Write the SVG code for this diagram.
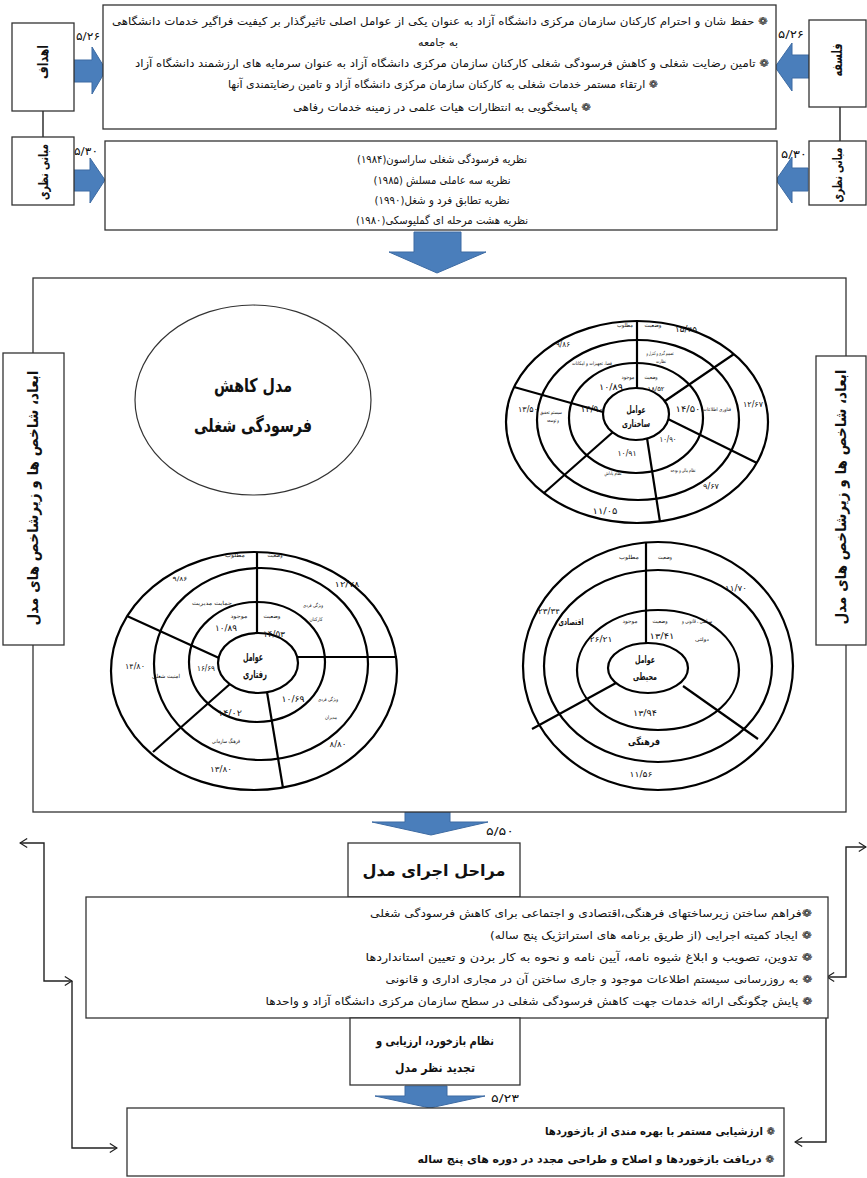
<svg xmlns="http://www.w3.org/2000/svg" width="867" height="1178" viewBox="0 0 867 1178">
<style>
text{font-family:"DejaVu Sans","Noto Sans",sans-serif;fill:#111}
.fa{direction:rtl;text-anchor:middle}
.c{text-anchor:middle}
.b{font-weight:bold}
.box{fill:#fff;stroke:#333;stroke-width:1.3}
.ring{fill:none;stroke:#000;stroke-width:2.2}
.sp{stroke:#000;stroke-width:2.2}
.blue{fill:#4A7EBB;stroke:#3D6BA3;stroke-width:1}
.con{fill:none;stroke:#222;stroke-width:1.4}
.s5{font-size:5px}.s55{font-size:5.5px}.s7{font-size:8px}.s8{font-size:8.5px}
.t11{font-size:11px}.t12{font-size:12px}
.lbl{font-size:11px;text-anchor:middle}
</style>
<defs>
<marker id="oa" viewBox="0 0 10 12" refX="9" refY="6" markerWidth="9" markerHeight="11" markerUnits="userSpaceOnUse" orient="auto-start-reverse">
<path d="M1,1 L9,6 L1,11" fill="none" stroke="#222" stroke-width="1.4"/>
</marker>
</defs>
<rect width="867" height="1178" fill="#fff"/>

<g id="connectors">
<line class="con" x1="43" y1="111" x2="43" y2="137"/>
<line class="con" x1="840" y1="107" x2="840" y2="141"/>
<path class="con" d="M20,843 H44 V981 H72" marker-start="url(#oa)" marker-end="url(#oa)"/>
<path class="con" d="M72,981 V1148 H117" marker-end="url(#oa)"/>
<path class="con" d="M827,977 H846 V847 H866" marker-start="url(#oa)" marker-end="url(#oa)"/>
<path class="con" d="M826,977 V1142 H795" marker-end="url(#oa)"/>
<polygon class="blue" points="74,60 92,60 92,47 106,70 92,94 92,82 74,82"/>
<polygon class="blue" points="74,170 90,170 90,158 105,180 90,203 90,191 74,191"/>
<polygon class="blue" points="809,55 792,55 792,43 775,67 792,91 792,78 809,78"/>
<polygon class="blue" points="808,168 792,168 792,157 776,180 792,203 792,191 808,191"/>
<polygon class="blue" points="414,232 461,232 461,252 486,252 437,273 389,252 414,252"/>
<polygon class="blue" points="405,812 450,812 450,822 488,822 431,835 372,822 405,822"/>
<polygon class="blue" points="405,1086 447,1086 447,1096 485,1096 430,1108 375,1096 405,1096"/>
<text class="lbl" x="88" y="40" textLength="24" lengthAdjust="spacingAndGlyphs">۵/۲۶</text>
<text class="lbl" x="86" y="155" textLength="24" lengthAdjust="spacingAndGlyphs">۵/۳۰</text>
<text class="lbl" x="791" y="38" textLength="26" lengthAdjust="spacingAndGlyphs">۵/۲۶</text>
<text class="lbl" x="794" y="158" textLength="26" lengthAdjust="spacingAndGlyphs">۵/۳۰</text>
<text class="lbl" x="500" y="835" textLength="28" lengthAdjust="spacingAndGlyphs">۵/۵۰</text>
<text class="lbl" x="505" y="1102" textLength="28" lengthAdjust="spacingAndGlyphs">۵/۲۳</text>
</g>

<g id="goals">
<rect class="box" x="12" y="23" width="62" height="88"/>
<text class="fa b" font-size="14" transform="translate(43,62) rotate(-90)" dominant-baseline="central" textLength="34" lengthAdjust="spacingAndGlyphs">اهداف</text>
</g>
<g id="theory-left">
<rect class="box" x="12" y="137" width="62" height="68"/>
<text class="fa b" font-size="13" transform="translate(43,172) rotate(-90)" dominant-baseline="central" textLength="56" lengthAdjust="spacingAndGlyphs">مبانی نظری</text>
</g>
<g id="philosophy">
<rect class="box" x="809" y="20" width="57" height="87"/>
<text class="fa b" font-size="14" transform="translate(837,60) rotate(-90)" dominant-baseline="central" textLength="33" lengthAdjust="spacingAndGlyphs">فلسفه</text>
</g>
<g id="theory-right">
<rect class="box" x="809" y="141" width="57" height="64"/>
<text class="fa b" font-size="13" transform="translate(837,175) rotate(-90)" dominant-baseline="central" textLength="55" lengthAdjust="spacingAndGlyphs">مبانی نظری</text>
</g>

<g id="goals-text">
<rect class="box" x="103" y="5" width="673" height="124"/>
<text class="fa t11" x="440" y="25" textLength="656" lengthAdjust="spacingAndGlyphs">❁ حفظ شان و احترام کارکنان سازمان مرکزی دانشگاه آزاد به عنوان یکی از عوامل اصلی تاثیرگذار بر کیفیت فراگیر خدمات دانشگاهی</text>
<text class="fa t11" x="438" y="46" textLength="40" lengthAdjust="spacingAndGlyphs">به جامعه</text>
<text class="fa t11" x="452" y="67" textLength="634" lengthAdjust="spacingAndGlyphs">❁ تامین رضایت شغلی و کاهش فرسودگی شغلی کارکنان سازمان مرکزی دانشگاه آزاد به عنوان سرمایه های ارزشمند دانشگاه آزاد</text>
<text class="fa t11" x="443" y="88" textLength="430" lengthAdjust="spacingAndGlyphs">❁ ارتقاء مستمر خدمات شغلی به کارکنان سازمان مرکزی دانشگاه آزاد و تامین رضایتمندی آنها</text>
<text class="fa t11" x="442" y="111" textLength="298" lengthAdjust="spacingAndGlyphs">❁ پاسخگویی به انتظارات هیات علمی در زمینه خدمات رفاهی</text>
</g>

<g id="theories">
<rect class="box" x="105" y="141" width="672" height="89"/>
<text class="fa t11" x="442" y="163" textLength="170" lengthAdjust="spacingAndGlyphs">نظریه فرسودگی شغلی ساراسون(۱۹۸۴)</text>
<text class="fa t11" x="442" y="184" textLength="137" lengthAdjust="spacingAndGlyphs">نظریه سه عاملی مسلش (۱۹۸۵)</text>
<text class="fa t11" x="442" y="204" textLength="135" lengthAdjust="spacingAndGlyphs">نظریه تطابق فرد و شغل(۱۹۹۰)</text>
<text class="fa t11" x="442" y="224" textLength="172" lengthAdjust="spacingAndGlyphs">نظریه هشت مرحله ای گملیوسکی(۱۹۸۰)</text>
</g>

<g id="model-frame">
<rect class="box" x="33" y="278" width="813" height="534"/>
</g>
<g id="dims-left">
<rect class="box" x="3" y="353" width="61" height="292"/>
<text class="fa b" font-size="15" transform="translate(33,498) rotate(-90)" dominant-baseline="central" textLength="255" lengthAdjust="spacingAndGlyphs">ابعاد، شاخص ها و زیرشاخص های مدل</text>
</g>
<g id="dims-right">
<rect class="box" x="816" y="356" width="50" height="289"/>
<text class="fa b" font-size="15" transform="translate(841,497) rotate(-90)" dominant-baseline="central" textLength="255" lengthAdjust="spacingAndGlyphs">ابعاد، شاخص ها و زیرشاخص های مدل</text>
</g>

<g id="model-title">
<ellipse cx="253" cy="400" rx="118" ry="95" fill="#fff" stroke="#333" stroke-width="1.2"/>
<text class="fa b" font-size="19" x="253" y="392" textLength="78" lengthAdjust="spacingAndGlyphs">مدل کاهش</text>
<text class="fa b" font-size="19" x="253" y="432" textLength="118" lengthAdjust="spacingAndGlyphs">فرسودگی شغلی</text>
</g>

<g id="wheel-structural">
<ellipse class="ring" cx="637" cy="422" rx="131" ry="101"/>
<ellipse class="ring" cx="638" cy="420" rx="101" ry="80"/>
<ellipse class="ring" cx="636" cy="418" rx="67" ry="55"/>
<ellipse class="ring" cx="636" cy="414" rx="33" ry="26"/>
<line class="sp" x1="637" y1="388" x2="637" y2="321"/>
<line class="sp" x1="665" y1="401" x2="734" y2="354"/>
<line class="sp" x1="668" y1="419" x2="757" y2="463"/>
<line class="sp" x1="647" y1="438" x2="660" y2="522"/>
<line class="sp" x1="613" y1="432" x2="544" y2="493"/>
<line class="sp" x1="603" y1="412" x2="514" y2="387"/>
<text class="fa s55" x="653" y="327" textLength="17" lengthAdjust="spacingAndGlyphs">وضعیت</text>
<text class="fa s55" x="625" y="327" textLength="16" lengthAdjust="spacingAndGlyphs">مطلوب</text>
<text class="c s7" x="686" y="332" textLength="22" lengthAdjust="spacingAndGlyphs">۱۵/۴۵</text>
<text class="c s7" x="563" y="347" textLength="14" lengthAdjust="spacingAndGlyphs">۹/۸۶</text>
<text class="fa s5" x="660" y="355" textLength="27" lengthAdjust="spacingAndGlyphs">تصمیم گیری و کنترل و</text>
<text class="fa s5" x="661" y="363" textLength="10" lengthAdjust="spacingAndGlyphs">نظارت</text>
<text class="fa s5" x="592" y="365" textLength="40" lengthAdjust="spacingAndGlyphs">فضا، تجهیزات و امکانات</text>
<text class="fa s55" x="628" y="379" textLength="13" lengthAdjust="spacingAndGlyphs">موجود</text>
<text class="fa s55" x="651" y="379" textLength="13" lengthAdjust="spacingAndGlyphs">وضعیت</text>
<text class="c s8" x="611" y="390" textLength="24" lengthAdjust="spacingAndGlyphs">۱۰/۸۹</text>
<text class="c" font-size="6.5" x="656" y="391" textLength="17" lengthAdjust="spacingAndGlyphs">۱۸/۵۲</text>
<text class="c s7" x="753" y="407" textLength="20" lengthAdjust="spacingAndGlyphs">۱۲/۶۷</text>
<text class="fa s5" x="717" y="411" textLength="28" lengthAdjust="spacingAndGlyphs">فناوری اطلاعات</text>
<text class="c s8" x="688" y="412" textLength="25" lengthAdjust="spacingAndGlyphs">۱۴/۵۰</text>
<text class="fa b" font-size="10" x="636" y="413" textLength="19" lengthAdjust="spacingAndGlyphs">عوامل</text>
<text class="fa b" font-size="10" x="636" y="427" textLength="28" lengthAdjust="spacingAndGlyphs">ساختاری</text>
<text class="c s7" x="528" y="412" textLength="20" lengthAdjust="spacingAndGlyphs">۱۳/۵۰</text>
<text class="fa s5" x="551" y="414" textLength="22" lengthAdjust="spacingAndGlyphs">سیستم تحقیق</text>
<text class="fa s5" x="553" y="422" textLength="12" lengthAdjust="spacingAndGlyphs">و توسعه</text>
<text class="c s8" x="592" y="412" textLength="23" lengthAdjust="spacingAndGlyphs">۱۴/۹۰</text>
<text class="c s7" x="668" y="442" textLength="17" lengthAdjust="spacingAndGlyphs">۱۰/۹۰</text>
<text class="c s7" x="627" y="456" textLength="19" lengthAdjust="spacingAndGlyphs">۱۰/۹۱</text>
<text class="fa s5" x="683" y="472" textLength="25" lengthAdjust="spacingAndGlyphs">نظام مالی و بودجه</text>
<text class="fa s5" x="613" y="475" textLength="17" lengthAdjust="spacingAndGlyphs">نظام پاداش</text>
<text class="c s7" x="711" y="489" textLength="16" lengthAdjust="spacingAndGlyphs">۹/۶۷</text>
<text class="c s8" x="605" y="514" textLength="25" lengthAdjust="spacingAndGlyphs">۱۱/۰۵</text>
</g>

<g id="wheel-behavioral">
<ellipse class="ring" cx="254" cy="671" rx="143" ry="119"/>
<ellipse class="ring" cx="261" cy="664" rx="107" ry="96"/>
<ellipse class="ring" cx="257" cy="662" rx="68" ry="60"/>
<ellipse class="ring" cx="258" cy="663" rx="40" ry="30"/>
<line class="sp" x1="257" y1="633" x2="257" y2="552"/>
<line class="sp" x1="298" y1="657" x2="397" y2="657"/>
<line class="sp" x1="267" y1="692" x2="283" y2="788"/>
<line class="sp" x1="230" y1="684" x2="153" y2="752"/>
<line class="sp" x1="219" y1="658" x2="127" y2="616"/>
<text class="fa s55" x="275" y="557" textLength="15" lengthAdjust="spacingAndGlyphs">وضعیت</text>
<text class="fa s55" x="235" y="557" textLength="20" lengthAdjust="spacingAndGlyphs">مطلوب</text>
<text class="c" font-size="6.5" x="180" y="581" textLength="15" lengthAdjust="spacingAndGlyphs">۹/۸۶</text>
<text class="c s7" x="347" y="587" textLength="25" lengthAdjust="spacingAndGlyphs">۱۲/۷۸</text>
<text class="fa s55" x="212" y="605" textLength="40" lengthAdjust="spacingAndGlyphs">حمایت مدیریت</text>
<text class="fa s5" x="313" y="607" textLength="20" lengthAdjust="spacingAndGlyphs">ویژگی فردی</text>
<text class="fa s5" x="316" y="621" textLength="13" lengthAdjust="spacingAndGlyphs">کارکنان</text>
<text class="fa s55" x="239" y="618" textLength="17" lengthAdjust="spacingAndGlyphs">موجود</text>
<text class="fa s55" x="272" y="618" textLength="17" lengthAdjust="spacingAndGlyphs">وضعیت</text>
<text class="c s8" x="226" y="631" textLength="22" lengthAdjust="spacingAndGlyphs">۱۰/۸۹</text>
<text class="c s8" x="274" y="637" textLength="22" lengthAdjust="spacingAndGlyphs">۱۴/۵۳</text>
<text class="fa b" font-size="11" x="253" y="661" textLength="20" lengthAdjust="spacingAndGlyphs">عوامل</text>
<text class="fa b" font-size="11" x="255" y="678" textLength="24" lengthAdjust="spacingAndGlyphs">رفتاری</text>
<text class="c s7" x="135" y="669" textLength="20" lengthAdjust="spacingAndGlyphs">۱۴/۸۰</text>
<text class="fa s55" x="166" y="678" textLength="28" lengthAdjust="spacingAndGlyphs">امنیت شغلی</text>
<text class="c s7" x="206" y="671" textLength="18" lengthAdjust="spacingAndGlyphs">۱۶/۶۹</text>
<text class="c s8" x="293" y="702" textLength="23" lengthAdjust="spacingAndGlyphs">۱۰/۶۹</text>
<text class="fa s5" x="328" y="701" textLength="20" lengthAdjust="spacingAndGlyphs">ویژگی فردی</text>
<text class="fa s5" x="331" y="719" textLength="12" lengthAdjust="spacingAndGlyphs">مدیران</text>
<text class="c s8" x="230" y="716" textLength="24" lengthAdjust="spacingAndGlyphs">۱۴/۰۲</text>
<text class="fa s55" x="226" y="743" textLength="28" lengthAdjust="spacingAndGlyphs">فرهنگ سازمانی</text>
<text class="c s7" x="338" y="747" textLength="17" lengthAdjust="spacingAndGlyphs">۸/۸۰</text>
<text class="c s7" x="221" y="772" textLength="22" lengthAdjust="spacingAndGlyphs">۱۳/۸۰</text>
</g>

<g id="wheel-environmental">
<ellipse class="ring" cx="658" cy="666" rx="135" ry="124"/>
<ellipse class="ring" cx="658" cy="666" rx="114" ry="96"/>
<ellipse class="ring" cx="658" cy="670" rx="81" ry="60"/>
<ellipse class="ring" cx="648" cy="668" rx="40" ry="25"/>
<line class="sp" x1="646" y1="643" x2="646" y2="543"/>
<line class="sp" x1="616" y1="683" x2="532" y2="729"/>
<line class="sp" x1="683" y1="686" x2="758" y2="739"/>
<text class="fa s55" x="665" y="559" textLength="14" lengthAdjust="spacingAndGlyphs">وضعیت</text>
<text class="fa s55" x="629" y="559" textLength="20" lengthAdjust="spacingAndGlyphs">مطلوب</text>
<text class="c s7" x="736" y="591" textLength="22" lengthAdjust="spacingAndGlyphs">۱۱/۷۰</text>
<text class="c s7" x="549" y="614" textLength="22" lengthAdjust="spacingAndGlyphs">۲۳/۳۴</text>
<text class="fa b" font-size="9" x="571" y="625" textLength="25" lengthAdjust="spacingAndGlyphs">اقتصادی</text>
<text class="fa s55" x="630" y="623" textLength="15" lengthAdjust="spacingAndGlyphs">موجود</text>
<text class="fa s55" x="660" y="623" textLength="15" lengthAdjust="spacingAndGlyphs">وضعیت</text>
<text class="fa s55" x="697" y="623" textLength="30" lengthAdjust="spacingAndGlyphs">سیاسی ، قانونی و</text>
<text class="fa s5" x="702" y="641" textLength="14" lengthAdjust="spacingAndGlyphs">دولتی</text>
<text class="c s7" x="601" y="642" textLength="23" lengthAdjust="spacingAndGlyphs">۲۶/۲۱</text>
<text class="c s8" x="662" y="639" textLength="25" lengthAdjust="spacingAndGlyphs">۱۳/۴۱</text>
<text class="fa b" font-size="10" x="645" y="663" textLength="20" lengthAdjust="spacingAndGlyphs">عوامل</text>
<text class="fa b" font-size="10" x="645" y="680" textLength="24" lengthAdjust="spacingAndGlyphs">محیطی</text>
<text class="c s8" x="645" y="716" textLength="24" lengthAdjust="spacingAndGlyphs">۱۳/۹۴</text>
<text class="fa b" font-size="10" x="644" y="745" textLength="32" lengthAdjust="spacingAndGlyphs">فرهنگی</text>
<text class="c s7" x="641" y="777" textLength="23" lengthAdjust="spacingAndGlyphs">۱۱/۵۶</text>
</g>

<g id="stages-title">
<rect class="box" x="348" y="843" width="172" height="54"/>
<text class="fa b" font-size="16" x="434" y="876" textLength="143" lengthAdjust="spacingAndGlyphs">مراحل اجرای مدل</text>
</g>
<g id="stages-list">
<rect class="box" x="86" y="897" width="742" height="121"/>
<text class="fa t11" x="591" y="917" textLength="442" lengthAdjust="spacingAndGlyphs">❁فراهم ساختن زیرساختهای فرهنگی،اقتصادی و اجتماعی برای کاهش فرسودگی شغلی</text>
<text class="fa t11" x="651" y="939" textLength="322" lengthAdjust="spacingAndGlyphs">❁ ایجاد کمیته اجرایی (از طریق برنامه های استراتژیک پنج ساله)</text>
<text class="fa t11" x="589" y="961" textLength="447" lengthAdjust="spacingAndGlyphs">❁ تدوین، تصویب و ابلاغ شیوه نامه، آیین نامه و نحوه به کار بردن و تعیین استانداردها</text>
<text class="fa t11" x="599" y="983" textLength="427" lengthAdjust="spacingAndGlyphs">❁ به روزرسانی سیستم اطلاعات موجود و جاری ساختن آن در مجاری اداری و قانونی</text>
<text class="fa t11" x="539" y="1005" textLength="547" lengthAdjust="spacingAndGlyphs">❁ پایش چگونگی ارائه خدمات جهت کاهش فرسودگی شغلی در سطح سازمان مرکزی دانشگاه آزاد و واحدها</text>
</g>
<g id="feedback-title">
<rect class="box" x="350" y="1018" width="170" height="67"/>
<text class="fa b t12" x="435" y="1045" textLength="118" lengthAdjust="spacingAndGlyphs">نظام بازخورد، ارزیابی و</text>
<text class="fa b t12" x="435" y="1072" textLength="80" lengthAdjust="spacingAndGlyphs">تجدید نظر مدل</text>
</g>
<g id="feedback-list">
<rect class="box" x="127" y="1108" width="657" height="68"/>
<text class="fa b t11" x="660" y="1135" textLength="230" lengthAdjust="spacingAndGlyphs">❁ ارزشیابی مستمر با بهره مندی از بازخوردها</text>
<text class="fa b t11" x="596" y="1163" textLength="357" lengthAdjust="spacingAndGlyphs">❁ دریافت بازخوردها و اصلاح و طراحی مجدد در دوره های پنج ساله</text>
</g>
</svg>
